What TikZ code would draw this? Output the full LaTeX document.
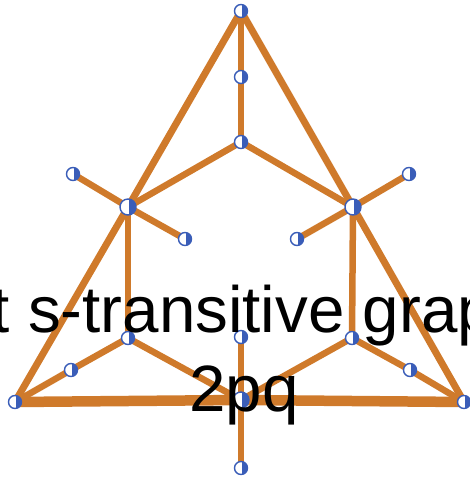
\documentclass[tikz,border=0pt]{standalone}
\usepackage{fontspec}
\setmainfont{Liberation Sans}
\usepackage{xcolor}
\definecolor{edgeorange}{HTML}{CF7A2B}
\definecolor{vertblue}{HTML}{3A5DB8}
\usepackage{tikz}
\usetikzlibrary{backgrounds}

\begin{document}
\begin{tikzpicture}[x=1pt,y=-1pt,
  vert/.style={circle,draw=vertblue,line width=1.4pt,fill=white,inner sep=0pt,minimum size=13pt,
               path picture={\fill[vertblue] ([xshift=1pt]path picture bounding box.north) rectangle (path picture bounding box.south east);}},
  hub/.style={vert,minimum size=16pt},
  edge/.style={draw=edgeorange,line width=6.5pt},
  side/.style={edge,line width=7pt},
  base/.style={edge,line width=10.5pt},
  lbl/.style={font=\fontsize{65.5}{70}\selectfont,inner sep=0pt}]
\useasboundingbox (0,0) rectangle (470,482);
% corners and hubs
\node[vert] (top) at (241,11) {};
\node[vert] (bl) at (15,402) {};
\node[vert] (br) at (464,402) {};
\node[hub] (hl) at (128,207) {};
\node[hub] (hr) at (353,207) {};
\node[hub] (hb) at (241,400) {};
% inner vertices
\node[vert] (ta) at (241,77) {};
\node[vert] (tb) at (241,142) {};
\node[vert] (lc) at (128,338) {};
\node[vert] (le) at (71,370) {};
\node[vert] (rc) at (352,338) {};
\node[vert] (re) at (410,370) {};
% leaves
\node[vert] (hl1) at (73,174) {};
\node[vert] (hl2) at (185,239) {};
\node[vert] (hr1) at (409,174) {};
\node[vert] (hr2) at (297,239) {};
\node[vert] (hb1) at (241,337) {};
\node[vert] (hb2) at (241,468) {};
\begin{scope}[on background layer]
\draw[side] (top.center) -- (hl.center); \draw[side] (hl.center) -- (bl.center);
\draw[side] (top.center) -- (hr.center); \draw[side] (hr.center) -- (br.center);
\draw[base] (bl.center) -- (hb.center); \draw[base] (hb.center) -- (br.center);
\draw[edge] (top.center) -- (ta.center); \draw[edge] (ta.center) -- (tb.center);
\draw[edge] (tb.center) -- (hl.center); \draw[edge] (tb.center) -- (hr.center);
\draw[edge] (hl.center) -- (lc.center); \draw[edge] (lc.center) -- (le.center); \draw[edge] (le.center) -- (bl.center);
\draw[edge] (hr.center) -- (rc.center); \draw[edge] (rc.center) -- (re.center); \draw[edge] (re.center) -- (br.center);
\draw[edge] (lc.center) -- (hb.center); \draw[edge] (rc.center) -- (hb.center);
\draw[edge] (hl.center) -- (hl1.center); \draw[edge] (hl.center) -- (hl2.center);
\draw[edge] (hr.center) -- (hr1.center); \draw[edge] (hr.center) -- (hr2.center);
\draw[edge] (hb.center) -- (hb1.center); \draw[edge] (hb.center) -- (hb2.center);
\end{scope}
% caption on top
\node[lbl,anchor=base west] (title) at (-8.5,332) {t s-transitive graph};
\node[lbl,anchor=base] (name) at (244,411) {2pq};
\end{tikzpicture}
\end{document}
